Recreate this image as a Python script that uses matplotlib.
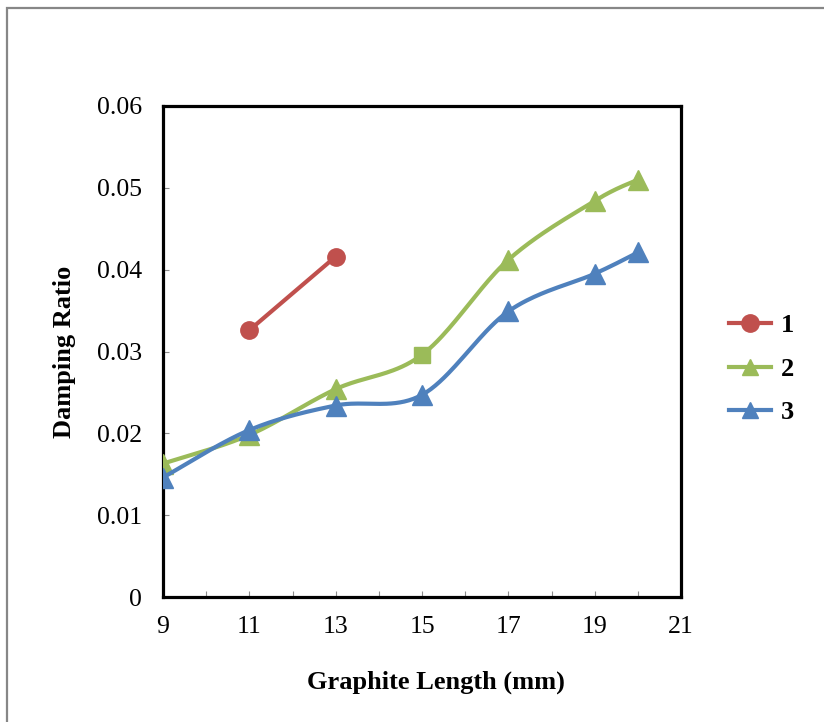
import numpy as np
import matplotlib
matplotlib.use('Agg')
import matplotlib.pyplot as plt
from matplotlib.patches import Rectangle

# Data
x1 = [11, 13]
y1 = [0.0326, 0.0416]

x2 = [9, 11, 13, 15, 17, 19, 20]
y2 = [0.0163, 0.0198, 0.0254, 0.0296, 0.0412, 0.0484, 0.0510]
markers2 = ['^', '^', '^', 's', '^', '^', '^']

x3 = [9, 11, 13, 15, 17, 19, 20]
y3 = [0.0146, 0.0204, 0.0234, 0.0247, 0.0349, 0.0395, 0.0421]

labels = ['1', '2', '3']
xticks = list(range(9, 22))
yticks = [0, 0.01, 0.02, 0.03, 0.04, 0.05, 0.06]

red = '#C0504D'
green = '#9BBB59'
blue = '#4F81BD'


def smooth(x, y, n=40):
    # Excel-like smoothed line (Catmull-Rom as cubic Bezier segments)
    p = np.column_stack([x, y]).astype(float)
    if len(p) < 3:
        return p[:, 0], p[:, 1]
    out = []
    t = np.linspace(0, 1, n)[:, None]
    for i in range(len(p) - 1):
        p0 = p[i - 1] if i > 0 else p[i]
        p1 = p[i]
        p2 = p[i + 1]
        p3 = p[i + 2] if i + 2 < len(p) else p[i + 1]
        c1 = p1 + (p2 - p0) / 6
        c2 = p2 - (p3 - p1) / 6
        seg = ((1 - t) ** 3) * p1 + 3 * ((1 - t) ** 2) * t * c1 + 3 * (1 - t) * t ** 2 * c2 + t ** 3 * p2
        out.append(seg if i == 0 else seg[1:])
    s = np.vstack(out)
    return s[:, 0], s[:, 1]


plt.rcParams['font.family'] = ['Liberation Serif', 'DejaVu Serif']

fig = plt.figure(figsize=(8.24, 7.22), dpi=100)
fig.patch.set_facecolor('white')
fig.patches.append(Rectangle((7.5 / 824, -0.2), 1.5, 1 - 7.5 / 722 + 0.2,
                             transform=fig.transFigure, fill=False,
                             edgecolor='#878787', lw=1.6))

ax = fig.add_axes([163 / 824, 1 - 597 / 722, (681 - 163) / 824, (597 - 106) / 722])

lw = 3.0
tri = 14.5
# series 1
ax.plot(x1, y1, color=red, lw=lw, marker='o', ms=12.5, zorder=3, label=labels[0])
# series 2
sx, sy = smooth(x2, y2)
ax.plot(sx, sy, color=green, lw=lw, zorder=4)
for xi, yi, m in zip(x2, y2, markers2):
    ax.plot([xi], [yi], ls='none', marker=m, ms=tri if m == '^' else 11.5,
            color=green, zorder=4)
ax.plot([], [], color=green, lw=lw, marker='^', ms=12, label=labels[1])
# series 3
sx, sy = smooth(x3, y3)
ax.plot(sx, sy, color=blue, lw=lw, zorder=5)
ax.plot(x3, y3, ls='none', marker='^', ms=tri, color=blue, zorder=5)
ax.plot([], [], color=blue, lw=lw, marker='^', ms=12, label=labels[2])

ax.set_xlim(9, 21)
ax.set_ylim(0, 0.06)
ax.set_xticks(xticks)
ax.set_xticklabels([str(v) if v % 2 == 1 else '' for v in xticks])
ax.set_yticks(yticks)
ax.set_yticklabels(['0', '0.01', '0.02', '0.03', '0.04', '0.05', '0.06'])
ax.tick_params(direction='in', length=4, width=0.8, color='#8c8c8c',
               labelsize=18.5, top=False, right=False)
ax.tick_params(axis='x', pad=14)
ax.tick_params(axis='y', pad=15)
for s in ax.spines.values():
    s.set_linewidth(2.3)
    s.set_color('black')

ax.set_ylabel('Damping Ratio', fontsize=19, fontweight='bold', labelpad=15)
fig.text(436 / 824, 1 - 682 / 722, 'Graphite Length (mm)', fontsize=19,
         fontweight='bold', ha='center', va='center')

leg = fig.legend(loc='center left', bbox_to_anchor=(729 / 824, 1 - 369 / 722),
                 frameon=False, prop={'weight': 'bold', 'size': 19},
                 borderpad=0, borderaxespad=0, handlelength=1.6,
                 handletextpad=0.35, labelspacing=0.75)

fig.savefig('out.png', dpi=100)
